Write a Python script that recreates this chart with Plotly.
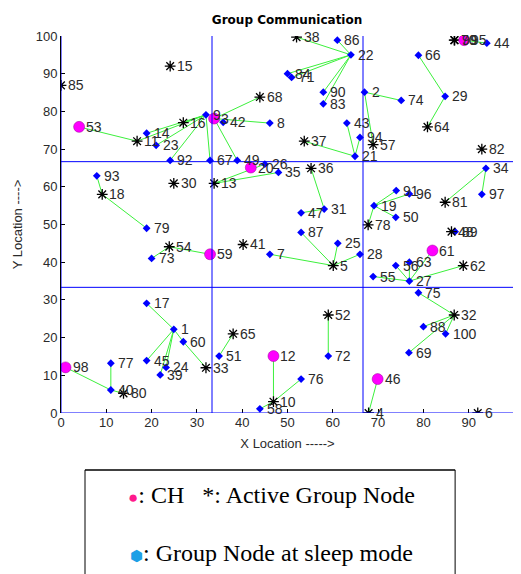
import plotly.graph_objects as go

# ---------------- data ----------------
node_ids = [1, 2, 3, 4, 5, 6, 7, 8, 9, 10,
            11, 12, 13, 14, 15, 16, 17, 18, 19, 20,
            21, 22, 23, 24, 25, 26, 27, 28, 29, 30,
            31, 32, 33, 34, 35, 36, 37, 38, 39, 40,
            41, 42, 43, 44, 45, 46, 47, 48, 49, 50,
            51, 52, 53, 54, 55, 56, 57, 58, 59, 60,
            61, 62, 63, 64, 65, 66, 67, 68, 69, 70,
            71, 72, 73, 74, 75, 76, 77, 78, 79, 80,
            81, 82, 83, 84, 85, 86, 87, 88, 89, 90,
            91, 92, 93, 94, 95, 96, 97, 98, 99, 100]
node_x = [24.9, 67.0, 33.8, 67.9, 60.1, 92.0, 46.1, 46.1, 32.0, 46.9,
          16.8, 46.9, 33.8, 18.9, 24.1, 27.0, 18.9, 9.1, 69.1, 41.9,
          64.9, 64.0, 21.0, 23.2, 61.1, 45.0, 76.9, 66.0, 84.8, 24.9,
          58.1, 86.8, 32.0, 93.8, 48.0, 55.2, 53.7, 52.0, 21.9, 11.0,
          40.2, 35.8, 63.1, 94.0, 18.9, 69.9, 53.0, 86.2, 38.9, 73.9,
          34.9, 59.0, 4.0, 23.9, 68.9, 73.9, 68.9, 43.9, 32.9, 27.0,
          82.0, 88.8, 76.9, 80.9, 38.0, 78.9, 32.9, 43.9, 76.8, 86.8,
          50.9, 59.0, 20.0, 75.1, 78.9, 53.0, 11.0, 67.8, 18.9, 13.8,
          84.8, 92.9, 57.9, 50.0, 0.0, 61.0, 53.0, 80.0, 87.0, 57.9,
          74.0, 24.1, 7.9, 66.0, 89.0, 76.9, 92.9, 1.0, 86.9, 84.9]
node_y = [22.2, 85.1, 78.1, 0.0, 39.1, 0.0, 42.1, 76.9, 79.1, 3.0,
          72.1, 15.1, 60.9, 74.2, 92.0, 77.0, 29.1, 58.0, 55.0, 65.1,
          68.1, 95.0, 71.0, 12.1, 45.0, 66.0, 35.0, 42.1, 84.0, 60.9,
          54.1, 26.0, 12.0, 64.9, 63.8, 64.9, 72.1, 99.7, 10.1, 6.1,
          44.7, 77.1, 76.9, 98.1, 13.9, 9.0, 53.1, 48.1, 67.0, 51.9,
          15.1, 26.0, 75.9, 44.1, 36.2, 39.1, 71.2, 1.1, 42.1, 18.9,
          43.1, 39.1, 40.0, 75.9, 21.0, 94.9, 67.0, 83.8, 16.0, 98.9,
          89.0, 15.1, 41.0, 82.9, 31.9, 9.0, 13.2, 49.9, 49.0, 5.2,
          55.9, 70.0, 82.0, 90.0, 86.9, 98.9, 47.9, 22.9, 48.1, 85.1,
          59.0, 67.0, 62.9, 73.1, 98.9, 58.1, 58.0, 12.1, 98.9, 21.0]
# node roles: C = cluster head, A = active group node, S = sleeping group node
node_role = ["S", "S", "C", "A", "A", "A", "S", "S", "S", "A",
             "A", "C", "A", "S", "A", "A", "S", "A", "S", "C",
             "S", "S", "S", "S", "S", "S", "S", "S", "S", "A",
             "S", "A", "A", "S", "S", "A", "A", "A", "S", "S",
             "A", "S", "S", "S", "S", "C", "S", "A", "S", "S",
             "S", "A", "C", "A", "S", "S", "A", "S", "C", "S",
             "C", "A", "S", "A", "A", "S", "S", "A", "S", "A",
             "S", "S", "S", "S", "S", "S", "S", "A", "S", "A",
             "A", "A", "S", "S", "A", "S", "S", "S", "S", "S",
             "S", "S", "S", "S", "C", "S", "S", "C", "A", "S"]

edge_from = [53, 11, 14, 23, 92, 67, 3, 3, 3, 3, 16,
             38, 86, 84, 71, 90, 83, 43, 37, 94, 2, 2, 66, 29, 99, 95,
             93, 18, 73, 54, 13, 13, 36, 47, 87, 25, 7, 28,
             34, 34, 19, 19, 19, 19, 27, 27, 27, 27, 27, 48,
             17, 1, 1, 1, 1, 60, 98, 77, 40,
             65, 12, 10, 10, 52, 75, 88, 100, 69, 46]
edge_to = [11, 9, 9, 9, 9, 9, 68, 8, 49, 42, 9,
           22, 22, 22, 22, 22, 22, 21, 21, 21, 74, 57, 29, 64, 95, 44,
           18, 79, 54, 59, 26, 35, 31, 31, 5, 5, 5, 5,
           97, 81, 91, 96, 50, 78, 55, 56, 63, 61, 62, 89,
           1, 45, 24, 39, 60, 33, 40, 40, 80,
           51, 10, 76, 58, 72, 32, 32, 32, 32, 4]

x_ticks = [0, 10, 20, 30, 40, 50, 60, 70, 80, 90, 100]
y_ticks = [0, 10, 20, 30, 40, 50, 60, 70, 80, 90, 100]
grid_lines = [0, 100 / 3, 200 / 3, 100]

# ---------------- figure ----------------
pos = {i: (x, y) for i, x, y in zip(node_ids, node_x, node_y)}
fig = go.Figure()

ex, ey = [], []
for a, b in zip(edge_from, edge_to):
    ex += [pos[a][0], pos[b][0], None]
    ey += [pos[a][1], pos[b][1], None]
fig.add_trace(go.Scatter(x=ex, y=ey, mode="lines",
                         line=dict(color="#3cf03c", width=1),
                         hoverinfo="skip", showlegend=False))

styles = {
    "S": dict(symbol="diamond", size=6, color="#0000ff", line=dict(width=0)),
    "A": dict(symbol="asterisk-open", size=9, color="black", line=dict(color="black", width=1.3)),
    "C": dict(symbol="circle", size=11, color="#ff00ff", line=dict(color="#990099", width=0.5)),
}
for role in ["S", "A", "C"]:
    idx = [k for k, r in enumerate(node_role) if r == role]
    fig.add_trace(go.Scatter(
        x=[node_x[k] for k in idx], y=[node_y[k] for k in idx],
        mode="markers", marker=styles[role], showlegend=False, hoverinfo="skip"))

for i, x, y in zip(node_ids, node_x, node_y):
    fig.add_annotation(x=x, y=y, xref="x", yref="y", text=str(i),
                       showarrow=False, xanchor="left", yanchor="middle",
                       xshift=6, borderpad=0,
                       font=dict(family="Liberation Sans, Arial", size=14, color="#2a2a2a"))

for g in grid_lines:
    fig.add_shape(type="line", x0=g, x1=g, y0=0, y1=100, xref="x", yref="y",
                  line=dict(color="#0000ff", width=1), layer="above")
for g in grid_lines[:3]:
    fig.add_shape(type="line", x0=0, x1=100, y0=g, y1=g, xref="x", yref="y",
                  line=dict(color="#0000ff", width=1), layer="above")

# legend box below
fig.add_shape(type="line", xref="paper", yref="paper", x0=0.053, x1=0.870,
              y0=-0.151, y1=-0.151, line=dict(color="black", width=1.5))
fig.add_shape(type="line", xref="paper", yref="paper", x0=0.053, x1=0.053,
              y0=-0.151, y1=-0.43, line=dict(color="black", width=1))
fig.add_shape(type="line", xref="paper", yref="paper", x0=0.870, x1=0.870,
              y0=-0.151, y1=-0.43, line=dict(color="black", width=1))

fig.add_annotation(xref="paper", yref="paper", x=0.464, y=-0.2175, yanchor="middle",
                   text="<span style='color:#ff1a8c;font-size:17px'>\u25CF</span>: CH   *: Active Group Node",
                   showarrow=False, font=dict(family="Liberation Serif, Times New Roman", size=24, color="black"))
fig.add_annotation(xref="paper", yref="paper", x=0.464, y=-0.371, yanchor="middle",
                   text="<span style='color:#1e9fe6;font-size:15px'>\u2B22</span>: Group Node at sleep mode",
                   showarrow=False, font=dict(family="Liberation Serif, Times New Roman", size=24, color="black"))

fig.update_layout(
    width=513, height=566,
    margin=dict(l=53, r=7, t=28, b=161),
    paper_bgcolor="white", plot_bgcolor="white",
    title=dict(text="<b>Group Communication</b>", x=0.544, xanchor="center",
               y=0.979, yanchor="middle",
               font=dict(family="DejaVu Sans, Verdana", size=12, color="black")),
    font=dict(family="Liberation Sans, Arial", size=12, color="#222222"),
    xaxis=dict(range=[0, 100], tickvals=x_ticks, ticks="inside", ticklen=4,
               tickcolor="black", showgrid=False, zeroline=False, automargin=False,
               tickfont=dict(size=13, color="#2a2a2a"),
               showline=False, title=dict(text="X Location ----->", standoff=9,
                                          font=dict(size=13, color="#2a2a2a"))),
    yaxis=dict(range=[0, 100], tickvals=y_ticks, ticks="inside", ticklen=4,
               tickcolor="black", showgrid=False, zeroline=False, automargin=False,
               tickfont=dict(size=13, color="#2a2a2a"),
               showline=True, linecolor="black", linewidth=1,
               title=dict(text="Y Location ---->", standoff=10,
                          font=dict(size=13, color="#2a2a2a"))),
)

fig.write_html("out.html")
